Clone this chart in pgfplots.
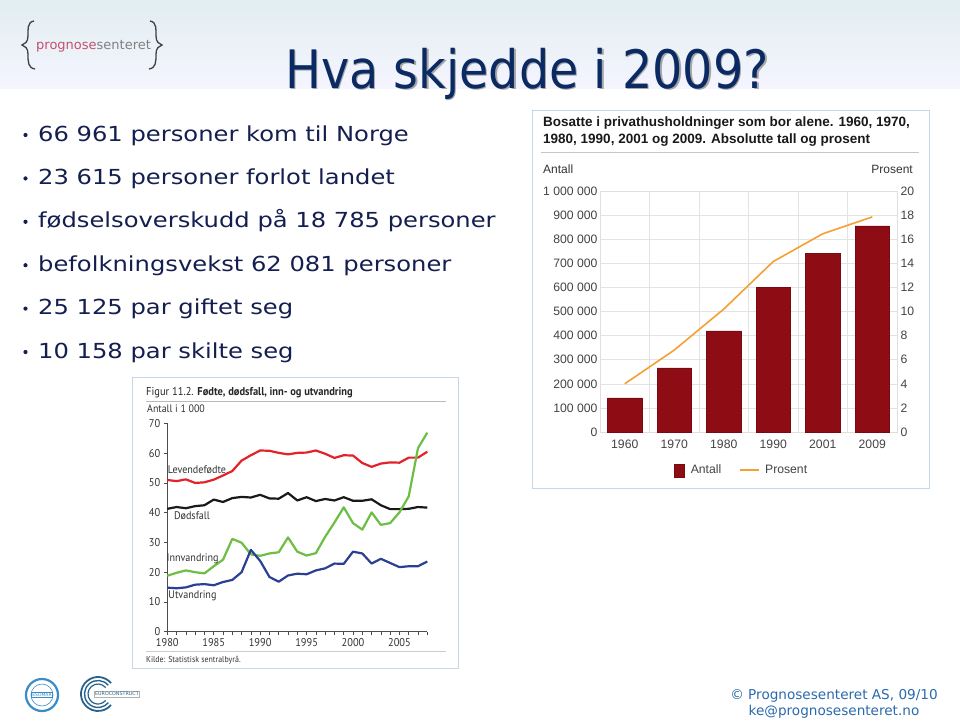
\documentclass[border=0pt]{standalone}
\usepackage{pgfplots}
\pgfplotsset{compat=1.18}
\usepackage{pgfplotstable}
\usepackage{fontspec}
\setmainfont{DejaVu Sans}
\newfontfamily\bulletfont[FakeStretch=1.17]{DejaVu Sans}
\newfontfamily\titlefont[FakeStretch=0.9]{DejaVu Sans}
\newfontfamily\lfont[FakeStretch=0.92]{PT Sans}
\newfontfamily\rfont{Liberation Sans}
\definecolor{navy}{HTML}{0B2A63}
\definecolor{bullettext}{HTML}{141F50}
\definecolor{footblue}{HTML}{2A6AAD}
\definecolor{barred}{HTML}{8E0C14}
\definecolor{lineorange}{HTML}{F5A033}
\definecolor{sred}{HTML}{E2232B}
\definecolor{sgreen}{HTML}{6DBE45}
\definecolor{sblue}{HTML}{2B3F95}
\definecolor{boxborder}{HTML}{C5D7EA}
\definecolor{txtgrey}{HTML}{333333}
\definecolor{ticgrey}{HTML}{444444}
\definecolor{logopink}{HTML}{C4506E}
\definecolor{logoblue}{HTML}{3A8CC8}

\pgfplotsset{
  mybarlegend/.style={legend image code/.code={\draw[##1,/tikz/.cd] (0pt,-6.5pt) rectangle (10pt,6.5pt); \path[draw=none,fill=none] (0pt,0pt) -- (15pt,0pt);}},
  mylinelegend/.style={legend image code/.code={\draw[##1] (0pt,0pt) -- (19pt,0pt); \path[draw=none,fill=none] (0pt,0pt) -- (23pt,0pt);}}
}

\pgfplotstableread{
year lev dod inn utv
1980 51.0 41.3 18.8 14.8
1981 50.6 41.9 19.8 14.6
1982 51.2 41.5 20.6 14.9
1983 50.0 42.2 20.0 15.8
1984 50.2 42.5 19.6 16.0
1985 51.1 44.4 22.0 15.6
1986 52.5 43.6 24.2 16.7
1987 54.0 44.9 31.2 17.4
1988 57.5 45.3 29.9 20.0
1989 59.3 45.1 26.0 27.5
1990 60.9 46.0 25.5 23.8
1991 60.8 44.8 26.3 18.4
1992 60.1 44.7 26.7 16.8
1993 59.6 46.6 31.7 18.9
1994 60.1 44.1 26.9 19.5
1995 60.2 45.2 25.6 19.3
1996 60.9 43.9 26.4 20.6
1997 59.8 44.6 31.9 21.3
1998 58.4 44.1 36.7 22.9
1999 59.3 45.2 41.8 22.8
2000 59.2 44.0 36.5 26.9
2001 56.7 44.0 34.3 26.3
2002 55.4 44.5 40.1 22.9
2003 56.5 42.5 35.9 24.5
2004 56.9 41.2 36.5 23.1
2005 56.8 41.2 40.1 21.7
2006 58.5 41.3 45.5 22.0
2007 58.5 41.9 61.7 22.0
2008 60.5 41.7 66.9 23.6
}\demog

\pgfplotstableread{
idx year antall prosent
0 1960 142000 4.0
1 1970 266000 6.8
2 1980 420000 10.2
3 1990 599000 14.15
4 2001 741000 16.45
5 2009 855000 17.85
}\alone

\begin{document}
\begin{tikzpicture}
\begin{scope}[x=1pt,y=1pt]
\path[use as bounding box] (0,0) rectangle (960,-720);
\fill[white] (0,0) rectangle (960,-720);
\shade[top color=blue!14!cyan!6!white!94!black, bottom color=blue!4!white] (0,0) rectangle (960,-88);

% logo
\draw[gray!50!black, line width=1.3pt] (34,-21) .. controls (27,-22) and (28,-30) .. (28,-36) .. controls (28,-42) and (25,-44) .. (22,-45) .. controls (25,-46) and (28,-48) .. (28,-54) .. controls (28,-62) and (28,-68) .. (35,-69);
\draw[gray!50!black, line width=1.3pt] (150,-21) .. controls (157,-22) and (156,-30) .. (156,-36) .. controls (156,-42) and (159,-44) .. (162,-45) .. controls (159,-46) and (156,-48) .. (156,-54) .. controls (156,-62) and (156,-68) .. (149,-69);
\node[anchor=base west, inner sep=0] at (36,-49) {\fontsize{13}{13}\selectfont\textcolor{logopink}{prognose}\textcolor{gray}{senteret}};

% title
\node[anchor=base west, inner sep=0, text=black!35] at (286.5,-89.5) {\titlefont\fontsize{53}{53}\selectfont Hva skjedde i 2009?};
\node[anchor=base west, inner sep=0, text=navy] at (285,-88) {\titlefont\fontsize{53}{53}\selectfont Hva skjedde i 2009?};

% bullets
\foreach \t [count=\i] in {66 961 personer kom til Norge,23 615 personer forlot landet,fødselsoverskudd på 18 785 personer,befolkningsvekst 62 081 personer,25 125 par giftet seg,10 158 par skilte seg}{
  \node[anchor=base west, inner sep=0, text=bullettext] at (38,{-141-43.4*(\i-1)}) {\bulletfont\fontsize{20.7}{20.7}\selectfont \t};
  \fill[bullettext] (25.5,{-135-43.4*(\i-1)}) circle (2.1);
}

% right chart frame and texts
\draw[boxborder, line width=1pt] (532,-110) rectangle (929,-488);
\node[anchor=base west, inner sep=0, text=black!90] at (543,-126) {\rfont\bfseries\fontsize{13.5}{13.5}\selectfont Bosatte i privathusholdninger som bor alene. 1960, 1970,};
\node[anchor=base west, inner sep=0, text=black!90] at (543,-143) {\rfont\bfseries\fontsize{13.5}{13.5}\selectfont 1980, 1990, 2001 og 2009. Absolutte tall og prosent};
\draw[gray!45, line width=0.8pt] (541,-152.5) -- (919,-152.5);
\node[anchor=base west, inner sep=0, text=txtgrey] at (543,-173) {\rfont\fontsize{12}{12}\selectfont Antall};
\node[anchor=base east, inner sep=0, text=txtgrey] at (913,-173) {\rfont\fontsize{12}{12}\selectfont Prosent};

% left chart frame and texts
\draw[boxborder, line width=1pt] (132,-377.5) rectangle (458,-668.5);
\node[anchor=base west, inner sep=0, text=black!85] at (146,-395.5) {\lfont\fontsize{11.4}{11.4}\selectfont Figur 11.2. \textbf{Fødte, dødsfall, inn- og utvandring}};
\draw[gray!55, line width=0.7pt] (146,-401.5) -- (446,-401.5);
\node[anchor=base west, inner sep=0, text=txtgrey] at (147,-412.5) {\lfont\fontsize{10.8}{10.8}\selectfont Antall i 1 000};
\draw[gray!40, line width=0.6pt] (146,-651) -- (446,-651);
\node[anchor=base west, inner sep=0, text=txtgrey] at (146,-662.5) {\lfont\fontsize{8.6}{8.6}\selectfont Kilde: Statistisk sentralbyrå.};

% footer logos
\draw[logoblue, line width=2.2pt] (42,-695) circle (16);
\draw[logoblue, line width=0.6pt] (42,-695) circle (11);
\node[draw=logoblue, line width=0.5pt, fill=white, inner sep=1pt, text=logoblue] at (42,-695) {\fontsize{4.5}{4.5}\selectfont ESOMAR};
\foreach \r/\w in {17/1.8,13.5/1.4,10/1.2}{
  \draw[logoblue!70!black, line width=\w pt] (98,-694) ++(40:\r) arc (40:320:\r);
}
\node[anchor=west, draw=gray!60, line width=0.4pt, fill=white, inner sep=1pt, text=logoblue!70!black] at (94,-694) {\fontsize{4.8}{4.8}\selectfont EUROCONSTRUCT};

% footer text
\node[anchor=base, inner sep=0, text=footblue] at (834,-699.5) {\fontsize{13.6}{13.6}\selectfont © Prognosesenteret AS, 09/10};
\node[anchor=base, inner sep=0, text=footblue] at (834,-715.5) {\fontsize{13.6}{13.6}\selectfont ke@prognosesenteret.no};
\end{scope}

\begin{axis}[at={(600pt,-432pt)}, anchor=south west, scale only axis,
  width=297pt, height=241pt,
  xmin=-0.5, xmax=5.5, ymin=0, ymax=1000000,
  xtick={0,1,2,3,4,5}, xticklabels={1960,1970,1980,1990,2001,2009},
  minor xtick={0.5,1.5,2.5,3.5,4.5}, xminorgrids=true,
  ytick={0,100000,200000,300000,400000,500000,600000,700000,800000,900000,1000000},
  yticklabels={0,100 000,200 000,300 000,400 000,500 000,600 000,700 000,800 000,900 000,1 000 000},
  ymajorgrids=true, grid style={gray!22, line width=0.6pt}, minor grid style={gray!22, line width=0.6pt},
  axis line style={gray!25, line width=0.6pt},
  major tick length=0pt, minor tick length=0pt,
  scaled y ticks=false,
  tick label style={font=\rfont\fontsize{12.2}{12.2}\selectfont, text=ticgrey},
  yticklabel style={xshift=1pt},
  xticklabel style={yshift=-4pt},
  legend columns=2,
  legend style={at={(0.476,-0.12)}, anchor=north, draw=none, fill=none,
    font=\rfont\fontsize{12.2}{12.2}\selectfont, text=ticgrey,
    /tikz/every even column/.append style={column sep=16pt}},
  clip=false]
\addplot[ybar, bar width=34.3pt, fill=barred, draw=barred!85!black, line width=0.4pt, mybarlegend]
  table[x=idx, y=antall] {\alone};
\addlegendentry{Antall}
\addlegendimage{lineorange, line width=1.6pt, mylinelegend}
\addlegendentry{Prosent}
\end{axis}

\begin{axis}[at={(600pt,-432pt)}, anchor=south west, scale only axis,
  width=297pt, height=241pt,
  xmin=-0.5, xmax=5.5, ymin=0, ymax=20,
  axis x line=none, axis y line*=right, axis line style={draw=none},
  ytick={0,2,4,6,8,10,12,14,16,18,20},
  major tick length=0pt,
  /pgf/number format/assume math mode=true,
  tick label style={font=\rfont\fontsize{12.2}{12.2}\selectfont, text=ticgrey}]
\addplot[lineorange, line width=1.6pt, line join=round] table[x=idx, y=prosent] {\alone};
\end{axis}

\begin{axis}[at={(167.3pt,-631.7pt)}, anchor=south west, scale only axis,
  width=260pt, height=208.3pt,
  xmin=1980, xmax=2008, ymin=0, ymax=70,
  axis x line*=bottom, axis y line*=left,
  axis line style={draw=black!70, line width=0.6pt, -},
  xtick={1980,1985,1990,1995,2000,2005},
  minor xtick={1980,1981,...,2008},
  ytick={0,10,20,30,40,50,60,70},
  tick align=outside, major tick length=3.5pt, minor tick length=3.5pt,
  tick style={draw=black!70, line width=0.6pt},
  /pgf/number format/assume math mode=true,
  /pgf/number format/1000 sep={},
  tick label style={font=\lfont\fontsize{11.3}{11.3}\selectfont, text=txtgrey},
  clip=false]
\addplot[sred, line width=2.2pt, line join=round] table[x=year, y=lev] {\demog};
\addplot[black!90, line width=2.2pt, line join=round] table[x=year, y=dod] {\demog};
\addplot[sgreen, line width=2.2pt, line join=round] table[x=year, y=inn] {\demog};
\addplot[sblue, line width=2.2pt, line join=round] table[x=year, y=utv] {\demog};
\node[anchor=west, inner sep=0, text=txtgrey, font=\lfont\fontsize{11}{11}\selectfont] at (axis cs:1980.05,54.4) {Levendefødte};
\node[anchor=west, inner sep=0, text=txtgrey, font=\lfont\fontsize{11}{11}\selectfont] at (axis cs:1980.7,39.0) {Dødsfall};
\node[anchor=west, inner sep=0, text=txtgrey, font=\lfont\fontsize{11}{11}\selectfont] at (axis cs:1979.9,24.5) {Innvandring};
\node[anchor=west, inner sep=0, text=txtgrey, font=\lfont\fontsize{11}{11}\selectfont] at (axis cs:1980.1,12.1) {Utvandring};
\end{axis}
\end{tikzpicture}
\end{document}
